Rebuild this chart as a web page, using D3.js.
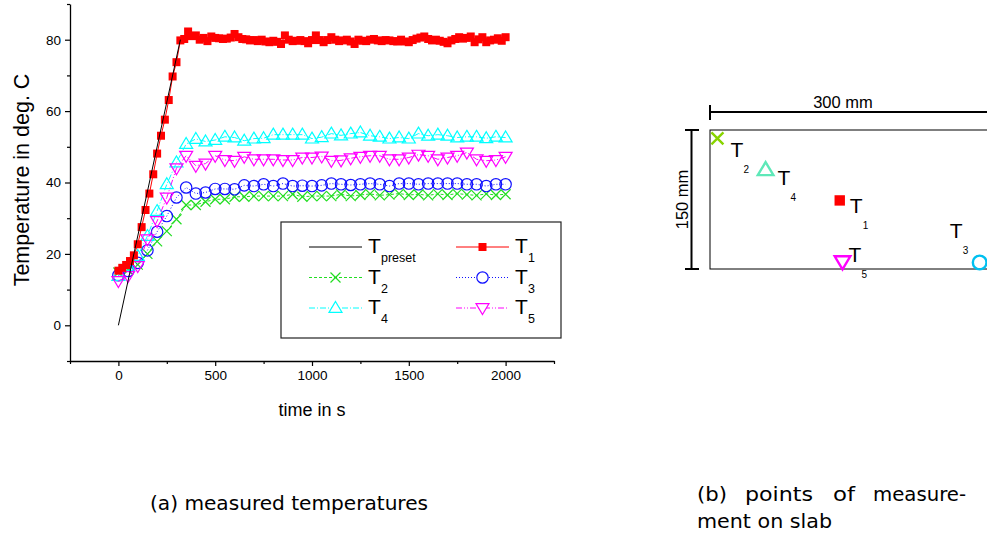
<!DOCTYPE html>
<html><head><meta charset="utf-8">
<script src="https://cdn.jsdelivr.net/npm/d3@7"></script>
<style>body{margin:0;background:#fff} svg{display:block}</style>
</head><body>
<svg id="c" width="987" height="536"></svg>
<script>
// ---------- data ----------
const timeT1 = [0,20,40,60,80,100,120,140,160,180,200,220,240,260,280,300,320,340,360,380,
  400,420,440,460,480,500,520,540,560,580,600,620,640,660,680,700,720,740,760,780,
  800,820,840,860,880,900,920,940,960,980,1000,1020,1040,1060,1080,1100,1120,1140,1160,1180,
  1200,1220,1240,1260,1280,1300,1320,1340,1360,1380,1400,1420,1440,1460,1480,1500,1520,1540,1560,1580,
  1600,1620,1640,1660,1680,1700,1720,1740,1760,1780,1800,1820,1840,1860,1880,1900,1920,1940,1960,1980,2000];
const T1 = [15.3,16.1,16.9,18.0,19.6,22.7,27.5,32.3,36.9,42.3,48.1,53.1,57.6,63.1,69.7,73.7,79.8,80.2,82.3,81.0,
  81.2,80.0,80.5,79.6,80.9,80.5,80.4,80.2,80.3,80.6,81.6,80.7,80.2,80.1,79.8,79.9,79.6,80.0,79.5,79.3,
  79.7,79.4,78.8,81.2,80.0,79.6,79.7,79.9,79.6,79.0,79.9,81.2,79.9,79.3,79.9,80.7,80.0,79.6,79.8,80.0,
  79.5,78.8,80.0,79.7,79.6,80.0,80.2,79.8,79.6,79.9,79.8,79.6,79.5,80.0,79.5,79.3,79.9,80.3,80.6,80.9,
  80.2,79.8,80.0,79.7,79.4,79.0,79.8,80.2,80.7,80.3,80.5,80.9,79.3,80.1,80.7,79.3,79.8,80.0,80.4,79.7,80.7];
const timeT = [0,50,100,150,200,250,300,350,400,450,500,550,600,650,700,750,800,850,900,950,
  1000,1050,1100,1150,1200,1250,1300,1350,1400,1450,1500,1550,1600,1650,1700,1750,1800,1850,1900,1950,2000];
const T2 = [14.8,15.5,17.0,20.0,23.5,26.4,29.7,33.7,33.7,34.6,35.3,35.3,36.0,36.0,36.2,36.2,36.2,36.2,36.7,36.0,
  36.2,36.2,36.2,36.7,36.2,36.5,36.8,36.4,36.6,36.9,36.5,36.7,36.4,36.8,36.5,36.9,36.6,36.4,36.8,36.5,36.7];
const T3 = [14.0,15.2,17.5,21.0,26.2,30.6,35.8,38.6,36.9,37.2,38.2,38.2,38.1,39.2,39.0,39.5,39.0,39.7,39.0,39.1,
  39.0,39.2,39.7,39.5,39.3,39.5,39.7,39.5,39.0,39.7,39.7,39.5,39.7,39.7,39.7,39.7,39.5,39.5,39.0,39.5,39.5];
const T4 = [13.8,16.6,19.4,25.0,32.0,39.5,45.6,50.8,52.2,51.5,51.9,52.8,52.6,51.7,52.3,52.4,53.4,53.4,53.4,53.4,
  52.3,52.7,53.7,53.2,53.7,54.0,53.1,52.8,52.3,52.6,52.3,53.7,53.1,53.4,53.1,52.6,52.8,52.8,52.4,52.8,52.6];
const T5 = [12.4,13.8,16.6,24.1,29.2,35.8,44.0,47.5,44.7,45.3,47.5,46.3,46.1,47.2,46.5,46.5,46.5,46.3,46.3,47.0,
  47.0,47.3,46.1,46.2,46.8,47.2,47.5,47.5,46.5,46.5,47.0,47.8,47.5,46.5,47.0,47.5,48.4,46.5,46.1,46.3,47.2];
const presetTime = [0, 320];
const presetTemp = [0, 80];

const xMajorTicks = [0, 500, 1000, 1500, 2000];
const xMinorTicks = [-250, 250, 750, 1250, 1750, 2250];
const yMajorTicks = [0, 20, 40, 60, 80];
const yMinorTicks = [-10, 10, 30, 50, 70, 90];

const xTitle = "time in s";
const yTitle = "Temperature in deg. C";
const legendSubs = ["preset", "1", "2", "3", "4", "5"];

// slab (right sub-figure): sensor positions in mm (x from left edge, y from top edge)
const slabNames = ["2", "4", "1", "5", "3"];
const slabXmm = [8, 60, 140, 143, 291];
const slabYmm = [9, 43, 76, 142, 143];
const slabWidthLabel = "300 mm";
const slabHeightLabel = "150 mm";
const captionA = "(a) measured temperatures";
const captionB1 = ["(b)", "points", "of", "measure-"];
const captionB2 = "ment on slab";

// ---------- drawing ----------
const svg = d3.select("#c");
const AX = "'Liberation Sans', Arial, sans-serif";
const x = d3.scaleLinear().domain([-250, 2250]).range([70, 554]);
const y = d3.scaleLinear().domain([-10, 90]).range([361, 4]);

// axes
const gx = svg.append("g").attr("transform", "translate(0,361)");
gx.call(d3.axisBottom(x).tickValues(xMajorTicks).tickSize(5).tickSizeOuter(0).tickPadding(4).tickFormat(d3.format("d")));
const gx2 = svg.append("g").attr("transform", "translate(0,361)");
gx2.call(d3.axisBottom(x).tickValues(xMinorTicks).tickSize(3).tickFormat(""));
gx2.select(".domain").remove();
const gy = svg.append("g").attr("transform", "translate(70,0)");
gy.call(d3.axisLeft(y).tickValues(yMajorTicks).tickSize(5).tickSizeOuter(0).tickPadding(4).tickFormat(d3.format("d")));
const gy2 = svg.append("g").attr("transform", "translate(70,0)");
gy2.call(d3.axisLeft(y).tickValues(yMinorTicks).tickSize(3).tickFormat(""));
gy2.select(".domain").remove();
svg.selectAll(".domain").attr("stroke", "#000").attr("stroke-width", 1.3);
svg.selectAll(".tick line").attr("stroke", "#000").attr("stroke-width", 1.2);
svg.selectAll(".tick text").attr("font-family", AX).attr("font-size", 13.5).attr("fill", "#000");

svg.append("text").attr("x", x(1000)).attr("y", 416).attr("text-anchor", "middle")
  .attr("font-family", AX).attr("font-size", 18).text(xTitle);
svg.append("text").attr("transform", `translate(29,180) rotate(-90)`)
  .attr("text-anchor", "middle").attr("font-family", AX).attr("font-size", 21.5).text(yTitle);

// marker shapes
const shapes = {
  square: g => g.append("rect").attr("x", -4).attr("y", -4).attr("width", 8).attr("height", 8),
  times: g => g.append("path").attr("d", "M-5,-5L5,5M5,-5L-5,5"),
  circle: g => g.append("circle").attr("r", 5.7),
  up: g => g.append("path").attr("d", "M0,-6.5L6.5,4.4L-6.5,4.4Z"),
  down: g => g.append("path").attr("d", "M0,6.5L6.5,-4.4L-6.5,-4.4Z")
};
const series = [
  {t: timeT, v: T2, color: "#22dd22", dash: "3,2", shape: "times", fill: "none"},
  {t: timeT, v: T3, color: "#1010ff", dash: "1,2", shape: "circle", fill: "none"},
  {t: timeT, v: T4, color: "#00ffff", dash: "6,2,1,2", shape: "up", fill: "none"},
  {t: timeT, v: T5, color: "#ff00ff", dash: "6,2,1,2,1,2", shape: "down", fill: "none"},
  {t: timeT1, v: T1, color: "#ff0000", dash: null, shape: "square", fill: "#ff0000"}
];
const line = d3.line().x(d => x(d[0])).y(d => y(d[1]));
series.forEach(s => {
  const pts = s.t.map((t, i) => [t, s.v[i]]);
  svg.append("path").attr("d", line(pts)).attr("fill", "none").attr("stroke", s.color)
    .attr("stroke-width", 1).attr("stroke-dasharray", s.dash);
  const g = svg.append("g");
  pts.forEach(p => {
    const m = g.append("g").attr("transform", `translate(${x(p[0])},${y(p[1])})`);
    shapes[s.shape](m).attr("fill", s.fill).attr("stroke", s.shape === "square" ? "none" : s.color)
      .attr("stroke-width", 1.2);
  });
});
svg.append("path").attr("d", line(presetTime.map((t, i) => [t, presetTemp[i]])))
  .attr("fill", "none").attr("stroke", "#000").attr("stroke-width", 1);

// legend
const lg = svg.append("g");
lg.append("rect").attr("x", 281).attr("y", 222).attr("width", 280).attr("height", 116)
  .attr("fill", "#fff").attr("stroke", "#222").attr("stroke-width", 1.2);
const legItems = [
  {sub: legendSubs[0], color: "#000", dash: null, shape: null, col: 0, row: 0},
  {sub: legendSubs[1], color: "#ff0000", dash: null, shape: "square", fill: "#ff0000", col: 1, row: 0},
  {sub: legendSubs[2], color: "#22dd22", dash: "3,2", shape: "times", col: 0, row: 1},
  {sub: legendSubs[3], color: "#1010ff", dash: "1,2", shape: "circle", col: 1, row: 1},
  {sub: legendSubs[4], color: "#00ffff", dash: "6,2,1,2", shape: "up", col: 0, row: 2},
  {sub: legendSubs[5], color: "#ff00ff", dash: "6,2,1,2,1,2", shape: "down", col: 1, row: 2}
];
legItems.forEach(it => {
  const x0 = it.col ? 456 : 309, yy = 247 + it.row * 30.5;
  lg.append("line").attr("x1", x0).attr("x2", x0 + 53).attr("y1", yy).attr("y2", yy)
    .attr("stroke", it.color).attr("stroke-width", 1).attr("stroke-dasharray", it.dash);
  if (it.shape) {
    const m = lg.append("g").attr("transform", `translate(${x0 + 26.5},${yy})`);
    shapes[it.shape](m).attr("fill", it.fill || "#fff").attr("stroke", it.shape === "square" ? "none" : it.color).attr("stroke-width", 1.2);
  }
  lg.append("text").attr("x", x0 + 59).attr("y", yy + 6).attr("font-family", AX).attr("font-size", 21).text("T");
  lg.append("text").attr("x", x0 + 72).attr("y", yy + 15).attr("font-family", AX).attr("font-size", 12.5).text(it.sub);
});

// ---------- slab figure ----------
const sx = d3.scaleLinear().domain([0, 300]).range([710, 988]);
const sy = d3.scaleLinear().domain([0, 150]).range([130, 269]);
svg.append("rect").attr("x", sx(0)).attr("y", sy(0)).attr("width", sx(300) - sx(0)).attr("height", sy(150) - sy(0))
  .attr("fill", "none").attr("stroke", "#000").attr("stroke-width", 1);
// width dimension
svg.append("line").attr("x1", sx(0)).attr("x2", 987).attr("y1", 112).attr("y2", 112).attr("stroke", "#000").attr("stroke-width", 2);
svg.append("line").attr("x1", sx(0)).attr("x2", sx(0)).attr("y1", 105).attr("y2", 120).attr("stroke", "#000").attr("stroke-width", 2);
svg.append("text").attr("x", 843).attr("y", 108).attr("text-anchor", "middle").attr("font-family", AX).attr("font-size", 16.5).text(slabWidthLabel);
// height dimension
svg.append("line").attr("x1", 691.5).attr("x2", 691.5).attr("y1", sy(0)).attr("y2", sy(150)).attr("stroke", "#000").attr("stroke-width", 2);
[0, 150].forEach(v => svg.append("line").attr("x1", 685).attr("x2", 699).attr("y1", sy(v)).attr("y2", sy(v)).attr("stroke", "#000").attr("stroke-width", 2));
svg.append("text").attr("transform", `translate(688,${(sy(0) + sy(150)) / 2}) rotate(-90)`).attr("text-anchor", "middle")
  .attr("font-family", AX).attr("font-size", 16.5).text(slabHeightLabel);

const slabStyle = {
  "2": {shape: "times", color: "#88d400", fill: "none", dx: 13, dy: 19},
  "4": {shape: "up", color: "#5ee8b8", fill: "none", dx: 12, dy: 15},
  "1": {shape: "square", color: "#ff0000", fill: "#ff0000", dx: 10, dy: 13},
  "5": {shape: "down", color: "#ff00ff", fill: "none", dx: 6, dy: 0},
  "3": {shape: "circle", color: "#00c0f0", fill: "none", dx: -30, dy: -25}
};
slabNames.forEach((n, i) => {
  const st = slabStyle[n], px = sx(slabXmm[i]), py = sy(slabYmm[i]);
  svg.append("text").attr("x", px + st.dx).attr("y", py + st.dy).attr("font-family", AX).attr("font-size", 21).text("T");
  svg.append("text").attr("x", px + st.dx + 13).attr("y", py + st.dy + 16).attr("font-family", AX).attr("font-size", 10).text(n);
  const m = svg.append("g").attr("transform", `translate(${px},${py}) scale(${n === "1" ? 1.3 : 1.2})`);
  shapes[st.shape](m).attr("fill", st.fill).attr("stroke", st.shape === "square" ? "none" : st.color).attr("stroke-width", 2);
});

// ---------- captions ----------
const CF = "'DejaVu Sans Condensed', Roboto, sans-serif";
svg.append("text").attr("x", 150).attr("y", 510).attr("font-family", CF).attr("font-size", 19.5)
  .attr("textLength", 278).attr("lengthAdjust", "spacingAndGlyphs").text(captionA);
const bx = [697, 745, 833, 873], bw = [30, 68, 22, 93];
captionB1.forEach((w, i) => svg.append("text").attr("x", bx[i]).attr("y", 501).attr("font-family", CF).attr("font-size", 19.5)
  .attr("textLength", bw[i]).attr("lengthAdjust", "spacingAndGlyphs").text(w));
svg.append("text").attr("x", 697).attr("y", 528).attr("font-family", CF).attr("font-size", 19.5)
  .attr("textLength", 135).attr("lengthAdjust", "spacingAndGlyphs").text(captionB2);
</script>
</body></html>
